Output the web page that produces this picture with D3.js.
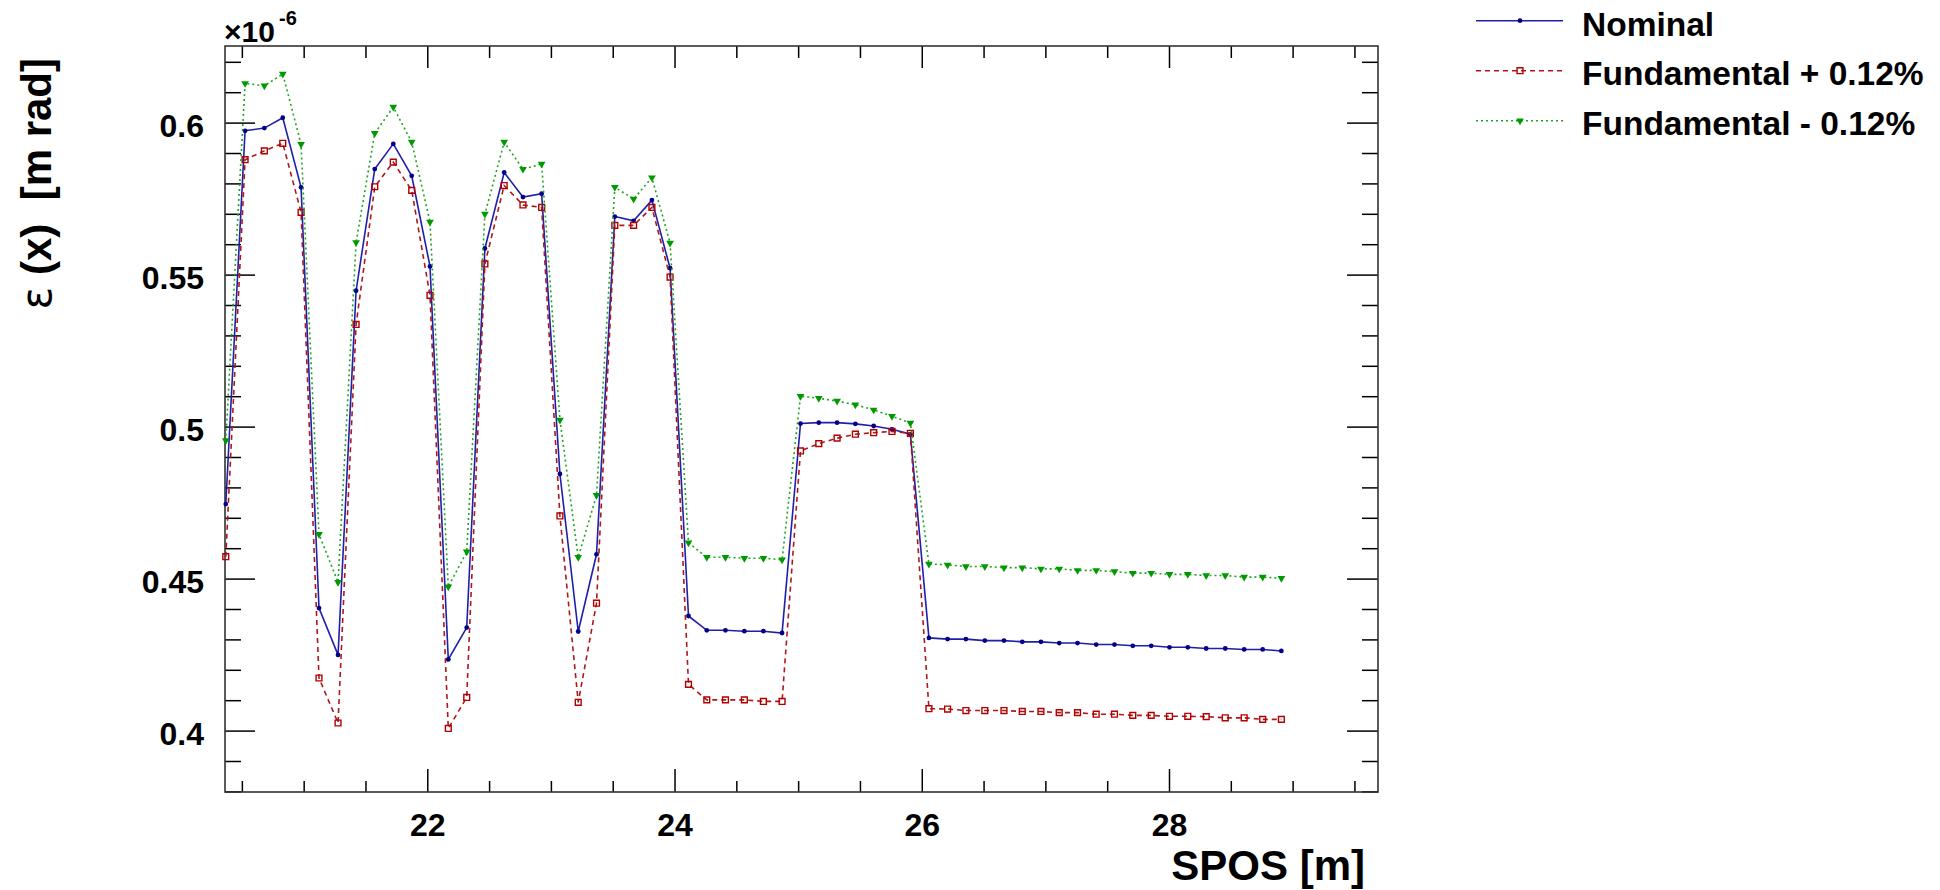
<!DOCTYPE html>
<html><head><meta charset="utf-8">
<script src="https://cdn.jsdelivr.net/npm/d3@7"></script>
<style>
body{margin:0;background:#fff;}
svg{display:block;}
text{font-family:"Liberation Sans",Arial,Helvetica,sans-serif;}
</style></head><body>
<svg id="c" width="1940" height="890"></svg>
<script>
// ---- data (values in units of 1e-6 m rad) ----
const spos = [20.37,20.526,20.682,20.831,20.979,21.124,21.278,21.424,21.575,21.725,
  21.874,22.022,22.17,22.319,22.466,22.622,22.774,22.925,23.073,23.221,
  23.369,23.517,23.669,23.817,23.964,24.113,24.261,24.412,24.565,24.719,
  24.87,25.019,25.167,25.315,25.463,25.611,25.759,25.908,26.058,26.209,
  26.357,26.51,26.665,26.813,26.964,27.112,27.26,27.411,27.559,27.707,
  27.856,28.004,28.152,28.301,28.455,28.608,28.758,28.909];
const nominal = [0.4745,0.5973,0.5982,0.6016,0.5787,0.4403,0.4249,0.5447,0.5847,0.593,
  0.5825,0.5527,0.4234,0.4339,0.5586,0.5836,0.5755,0.5766,0.4844,0.4326,
  0.458,0.5691,0.5677,0.5745,0.5521,0.4377,0.433,0.433,0.4327,0.4327,
  0.4321,0.501,0.5013,0.5013,0.5009,0.5002,0.4991,0.4975,0.4305,0.4301,
  0.4301,0.4296,0.4296,0.4292,0.4292,0.4288,0.4288,0.4283,0.4283,0.4279,
  0.4279,0.4274,0.4274,0.427,0.427,0.4267,0.4267,0.4262];
const fundPlus = [0.4572,0.5878,0.5907,0.5932,0.5705,0.4173,0.4025,0.5336,0.5789,0.587,
  0.5777,0.5432,0.4007,0.4109,0.5535,0.5793,0.5729,0.5721,0.4706,0.4093,
  0.4419,0.5662,0.5662,0.5721,0.5492,0.4152,0.4101,0.4101,0.4101,0.4096,
  0.4096,0.492,0.4944,0.4962,0.4975,0.498,0.4984,0.4978,0.4072,0.4071,
  0.4066,0.4066,0.4066,0.4063,0.4063,0.4059,0.4059,0.4054,0.4054,0.405,
  0.405,0.4047,0.4047,0.4046,0.4042,0.4042,0.4037,0.4037];
const fundMinus = [0.4954,0.6129,0.6121,0.616,0.5929,0.4646,0.4488,0.5606,0.5965,0.6051,
  0.5936,0.5673,0.4473,0.4588,0.5699,0.5936,0.5847,0.5864,0.5022,0.457,
  0.4774,0.5787,0.5749,0.5819,0.5604,0.4618,0.457,0.457,0.4567,0.4567,
  0.4562,0.51,0.5093,0.5084,0.5072,0.5055,0.5034,0.5012,0.4548,0.4545,
  0.454,0.454,0.4536,0.4536,0.4532,0.4532,0.4527,0.4527,0.4523,0.4518,
  0.4518,0.4514,0.4514,0.451,0.451,0.4505,0.4505,0.4501];
const seriesNames = ["Nominal","Fundamental + 0.12%","Fundamental - 0.12%"];
const xMajorTicks = [22,24,26,28];
const xTickLabels = ["22","24","26","28"];
const xMinorTicks = [20.5,21,21.5,22.5,23,23.5,24.5,25,25.5,26.5,27,27.5,28.5,29,29.5];
const yMajorTicks = [0.4,0.45,0.5,0.55,0.6];
const yTickLabels = ["0.4","0.45","0.5","0.55","0.6"];
const yMinorTicks = [0.38,0.39,0.41,0.42,0.43,0.44,0.46,0.47,0.48,0.49,0.51,0.52,0.53,0.54,0.56,0.57,0.58,0.59,0.61,0.62];
const xTitle = "SPOS [m]";
const yTitleSymbol = "\u03B5";
const yTitleRest = " (x)  [m rad]";
const expBase = "\u00D710";
const expPower = "-6";
const xDomain = [20.3636, 29.6907];
const yDomain = [0.3798, 0.6252];

// ---- layout ----
const L = 225, T = 46, R = 1378, B = 792;
const svg = d3.select("#c");
const x = d3.scaleLinear().domain(xDomain).range([L, R]);
const y = d3.scaleLinear().domain(yDomain).range([B, T]);

function styleAxis(g){
  g.select(".domain").remove();
  g.selectAll(".tick line").attr("stroke","#000").attr("stroke-width",1.5);
  g.selectAll(".tick text").attr("fill","#000").style("font-weight","bold").style("font-size","32px")
    .style("font-family",'"Liberation Sans",Arial,sans-serif');
}
// left
svg.append("g").attr("transform",`translate(${L},0)`)
  .call(d3.axisLeft(y).tickValues(yMinorTicks).tickSize(-16).tickFormat("")).call(styleAxis);
svg.append("g").attr("transform",`translate(${L},0)`)
  .call(d3.axisLeft(y).tickValues(yMajorTicks).tickSize(-30).tickPadding(21)
    .tickFormat((d,i)=>yTickLabels[i])).call(styleAxis)
  .selectAll(".tick text").attr("dy","0.44em");
// right
svg.append("g").attr("transform",`translate(${R},0)`)
  .call(d3.axisRight(y).tickValues(yMinorTicks).tickSize(-16).tickFormat("")).call(styleAxis);
svg.append("g").attr("transform",`translate(${R},0)`)
  .call(d3.axisRight(y).tickValues(yMajorTicks).tickSize(-31).tickFormat("")).call(styleAxis);
// bottom
svg.append("g").attr("transform",`translate(0,${B})`)
  .call(d3.axisBottom(x).tickValues(xMinorTicks).tickSize(-11).tickFormat("")).call(styleAxis);
svg.append("g").attr("transform",`translate(0,${B})`)
  .call(d3.axisBottom(x).tickValues(xMajorTicks).tickSize(-23).tickPadding(21)
    .tickFormat((d,i)=>xTickLabels[i])).call(styleAxis);
// top
svg.append("g").attr("transform",`translate(0,${T})`)
  .call(d3.axisTop(x).tickValues(xMinorTicks).tickSize(-12).tickFormat("")).call(styleAxis);
svg.append("g").attr("transform",`translate(0,${T})`)
  .call(d3.axisTop(x).tickValues(xMajorTicks).tickSize(-22).tickFormat("")).call(styleAxis);

// frame
svg.append("rect").attr("x",L).attr("y",T).attr("width",R-L).attr("height",B-T)
  .attr("fill","none").attr("stroke","#333").attr("stroke-width",1.6);

// series
const series = [
  {name:seriesNames[0], vals:nominal, color:"#1f1faa", mcol:"#00008a", dash:null, sym:"circle"},
  {name:seriesNames[1], vals:fundPlus, color:"#b01818", mcol:"#b00000", dash:"5,4", sym:"square"},
  {name:seriesNames[2], vals:fundMinus, color:"#1fa51f", mcol:"#009a00", dash:"2,3", sym:"tri"}
];
const plot = svg.append("g");
function drawMarker(g, s, px, py){
  if(s.sym==="circle"){
    g.append("circle").attr("cx",px).attr("cy",py).attr("r",2.4).attr("fill",s.mcol);
  } else if(s.sym==="square"){
    g.append("path").attr("d",d3.symbol(d3.symbolSquare,34)()).attr("transform",`translate(${px},${py})`)
      .attr("fill","none").attr("stroke",s.mcol).attr("stroke-width",1.4);
  } else {
    g.append("path").attr("d",d3.symbol(d3.symbolTriangle,26)()).attr("transform",`translate(${px},${py}) rotate(180)`)
      .attr("fill",s.mcol);
  }
}
series.forEach(s=>{
  const line = d3.line().x((d,i)=>x(spos[i])).y(d=>y(d));
  const p = plot.append("path").attr("d",line(s.vals)).attr("fill","none")
    .attr("stroke",s.color).attr("stroke-width",1.6);
  if(s.dash) p.attr("stroke-dasharray",s.dash);
  const mg = plot.append("g");
  s.vals.forEach((v,i)=>drawMarker(mg,s,x(spos[i]),y(v)));
});

// legend
const legRows = [20.7, 70.7, 120.7];
const legText = [35.5, 85, 134.5];
series.forEach((s,k)=>{
  const g = svg.append("g");
  const ln = g.append("line").attr("x1",1476).attr("x2",1563).attr("y1",legRows[k]).attr("y2",legRows[k])
    .attr("stroke",s.color).attr("stroke-width",1.6);
  if(s.dash) ln.attr("stroke-dasharray",s.dash);
  drawMarker(g,s,1520,legRows[k]);
  svg.append("text").attr("x",1582).attr("y",legText[k]).text(s.name)
    .style("font-weight","bold").style("font-size","33.5px").attr("fill","#000");
});

// axis titles
svg.append("text").attr("x",1365).attr("y",880).attr("text-anchor","end")
  .style("font-weight","bold").style("font-size","42px").text(xTitle);
const yt = svg.append("text").attr("transform","translate(51,58) rotate(-90)").attr("text-anchor","end")
  .style("font-weight","bold").style("font-size","42px").style("white-space","pre").attr("xml:space","preserve");
yt.append("tspan").style("font-weight","normal").style("font-family",'"DejaVu Sans",sans-serif').text(yTitleSymbol);
yt.append("tspan").text(yTitleRest);

// exponent
svg.append("text").attr("x",224).attr("y",42).attr("font-size",30).attr("font-weight","bold")
  .style("font-size","30px").style("font-weight","bold").attr("fill","#000").text(expBase);
svg.append("text").attr("x",279).attr("y",25).attr("font-size",20).attr("font-weight","bold")
  .style("font-size","20px").style("font-weight","bold").attr("fill","#000").text(expPower);
</script>
</body></html>
